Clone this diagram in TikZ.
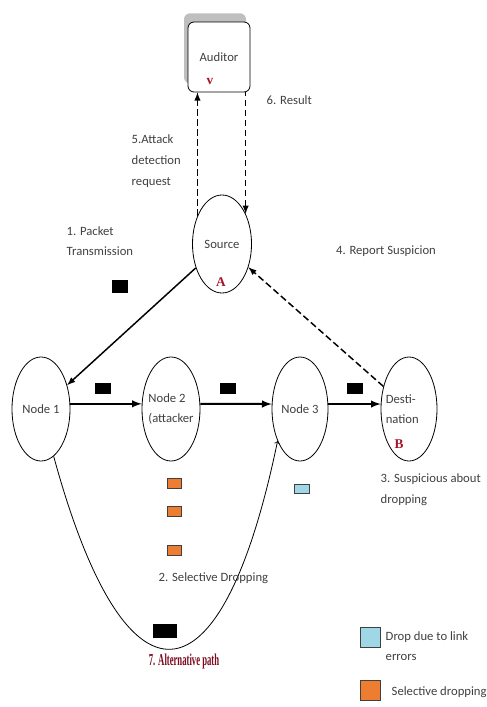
\documentclass[tikz,border=0pt]{standalone}
\usepackage{fontspec}
\setmainfont{Carlito}
\newfontfamily\altfont[FakeStretch=0.52]{Liberation Serif}
\newfontfamily\markfont{Liberation Serif}
\usetikzlibrary{shapes.geometric,shadows}
\definecolor{dropor}{RGB}{237,125,49}
\definecolor{dropblue}{RGB}{160,215,230}
\definecolor{markred}{RGB}{165,20,40}
\definecolor{altred}{RGB}{125,10,30}
\definecolor{txtgray}{RGB}{64,64,64}
\def\px{0.75pt}

\begin{document}
\begin{tikzpicture}[x=0.75pt, y=-0.75pt,
    every node/.style={font=\fontsize{9.5}{15.5}\selectfont, text=txtgray},
    station/.style={draw, ellipse, line width=0.6pt, inner sep=0pt, minimum width=58*\px, minimum height=104*\px},
    pkt/.style={fill=black, inner sep=0pt, minimum width=16*\px, minimum height=11*\px},
    lostbox/.style={draw=black!75, line width=0.6pt, inner sep=0pt, minimum width=14*\px, minimum height=10*\px},
    legbox/.style={draw=black!75, line width=0.6pt, inner sep=0pt, minimum width=20*\px, minimum height=20*\px},
    redmark/.style={font=\markfont\bfseries\fontsize{10}{11}\selectfont, text=markred},
    flow/.style={line width=1.5pt, -latex},
    report/.style={line width=1.1pt, dash pattern=on 5pt off 2.5pt, -latex}]
    %%%%% START %%%%%
    \useasboundingbox (0,0) rectangle (486,707);

    \node[draw, line width=0.6pt, rounded corners=4.5pt, fill=white, minimum width=62*\px, minimum height=70*\px,
        drop shadow={shadow xshift=-3pt, shadow yshift=6.5pt, fill=black!25, opacity=1}] (aud) at (219,57) {Auditor};
    \node[redmark] (v) at (210,82) {v};

    \node[station, minimum width=59*\px, minimum height=98*\px, label={center:Source}] (src) at (222,244) {};
    \node[redmark] (a) at (221,282) {A};

    \node[station, label={center:Node 1}] (n1) at (41,409) {};
    \node[station, label={[align=left]center:Node 2\\(attacker}] (n2) at (171,409) {};
    \node[station, minimum width=56*\px, label={center:Node 3}] (n3) at (300,409) {};
    \node[station, minimum width=56*\px, label={[align=left, xshift=-5pt]center:Desti-\\nation}] (dst) at (409,409) {};
    \node[redmark] (b) at (399,444) {B};

    \draw[report] (src.131) -- (src.131 |- aud.south);
    \draw[report, latex-] (src.52) -- (src.52 |- aud.south);
    \draw[line width=1.1pt, -latex] (src) -- (n1);
    \draw[report] (dst) -- (src);

    \draw[flow] (n1.10) -- (n2.170);
    \draw[flow] (n2.10) -- (n3.170);
    \draw[flow] (n3.10) -- (dst.170);

    \draw[line width=0.6pt, ->] (n1.-75) .. controls (125,718) and (221,714) .. (n3.-125);

    \node[pkt, minimum height=13*\px] (p0) at (120,286) {};
    \node[pkt] (p1) at (103,388) {};
    \node[pkt] (p2) at (228,388) {};
    \node[pkt] (p3) at (355,388) {};
    \node[pkt, minimum width=24*\px, minimum height=14*\px] (p4) at (165,631) {};

    \node[lostbox, fill=dropor] (d1) at (174,483) {};
    \node[lostbox, fill=dropor] (d2) at (174,511) {};
    \node[lostbox, fill=dropor] (d3) at (174,550) {};
    \node[lostbox, fill=dropblue, minimum width=15*\px, minimum height=9*\px] (e1) at (302,489) {};

    \node[align=left, anchor=west] (t5) at (127,161) {5.Attack\\detection\\request};
    \node[anchor=west] (t6) at (262,100) {6. Result};
    \node[align=left, anchor=west] (t1) at (62,241) {1. Packet\\Transmission};
    \node (t4) at (386,251) {4. Report Suspicion};
    \node[align=left, anchor=west] (t3) at (376,490) {3. Suspicious about\\dropping};
    \node[anchor=west] (t2) at (154,578) {2. Selective Dropping};
    \node[font=\altfont\bfseries\fontsize{12.5}{14}\selectfont, text=altred] (t7) at (184,661) {7. Alternative path};

    \node[legbox, fill=dropblue] (l1) at (370,637) {};
    \node[align=left, anchor=west] (l1t) at (381,646) {Drop due to link\\errors};
    \node[legbox, fill=dropor] (l2) at (370,690) {};
    \node[anchor=west] (l2t) at (387,692) {Selective dropping};
    %%%%% END %%%%%
\end{tikzpicture}
\end{document}
